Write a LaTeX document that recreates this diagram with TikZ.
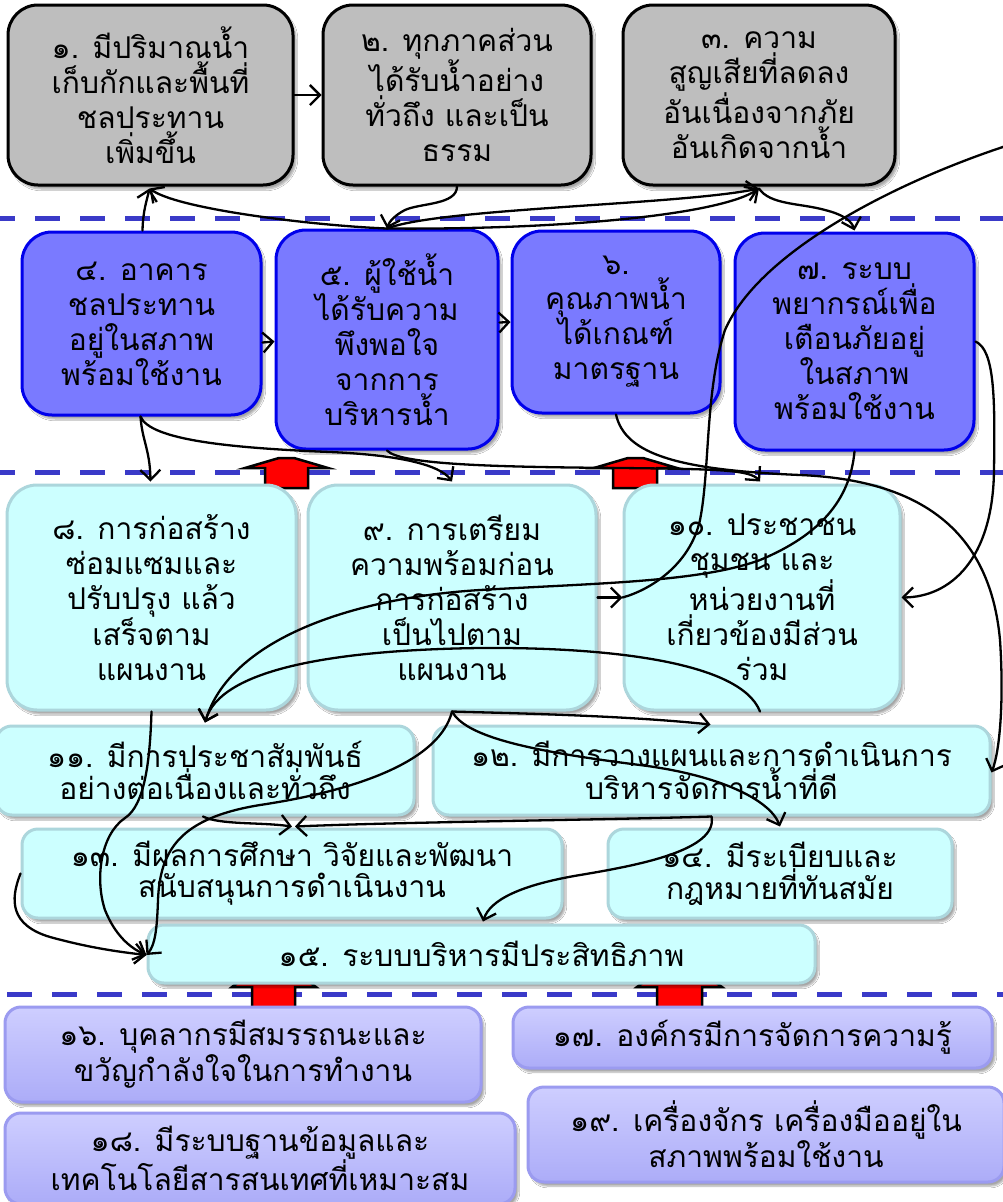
\documentclass[tikz,border=0pt]{standalone}
\usepackage{fontspec}
\newfontfamily\thaifont[Script=Thai]{Loma}
\usetikzlibrary{arrows.meta,shadows.blur,calc}
\definecolor{gfill}{RGB}{190,190,190}
\definecolor{bfill}{RGB}{122,122,255}
\definecolor{bdraw}{RGB}{0,0,235}
\definecolor{cfill}{RGB}{204,255,255}
\definecolor{cdraw}{RGB}{172,214,220}
\definecolor{ltop}{RGB}{206,206,255}
\definecolor{lbot}{RGB}{172,172,248}
\definecolor{ldraw}{RGB}{155,155,240}
\definecolor{dashblue}{RGB}{58,58,200}
\tikzset{
  shd/.style={blur shadow={shadow xshift=3pt, shadow yshift=-4pt, shadow blur steps=6, shadow opacity=35}},
  bigtxt/.style={font=\thaifont\fontsize{30}{35}\selectfont},
  smtxt/.style={font=\thaifont\fontsize{30}{31}\selectfont},
  gbox/.style={shd, rounded corners=30pt, align=center, inner sep=0pt, fill=gfill, draw=black, line width=3pt, bigtxt},
  bbox/.style={shd, rounded corners=30pt, align=center, inner sep=0pt, fill=bfill, draw=bdraw, line width=3pt, bigtxt},
  cbox/.style={shd, rounded corners=30pt, align=center, inner sep=0pt, fill=cfill, draw=cdraw, line width=3pt, bigtxt},
  csbox/.style={shd, rounded corners=16pt, align=center, inner sep=0pt, fill=cfill, draw=cdraw, line width=3pt, smtxt},
  lbox/.style={shd, rounded corners=16pt, align=center, inner sep=0pt, top color=ltop, bottom color=lbot, draw=ldraw, line width=3pt, smtxt},
  dline/.style={draw=dashblue, line width=5pt, dash pattern=on 25pt off 20pt},
  redarr/.style={fill=red, draw=black, line width=2.5pt, line join=miter},
  conn/.style={draw=black, line width=2.3pt, line cap=round, line join=round},
  arr/.style={conn, -{Straight Barb[length=10pt,width=20pt,line width=2.3pt]}}
}
\newcommand{\bx}[7]{\node[#1, minimum width={(#5-(#3))*1pt}, minimum height={(#6-(#4))*1pt}] (#2) at ({(#3+#5)/2},{(#4+#6)/2}) {#7};}
\begin{document}
\begin{tikzpicture}[x=1pt,y=-1pt]
\useasboundingbox[fill=white] (0,0) rectangle (1003,1202);
% dashed separators
\draw[dline] (-10,218) -- (1010,218);
\draw[dline] (-10,472) -- (1010,472);
\draw[dline] (7,994) -- (1010,994);
% red block arrows
\draw[redarr] (265,488) -- (265,468) -- (245,468) -- (279,458) -- (294,458) -- (328,468) -- (308,468) -- (308,488) -- cycle;
\draw[redarr] (613,488) -- (613,468) -- (594,468) -- (628,458) -- (643,458) -- (677,468) -- (657,468) -- (657,488) -- cycle;
\draw[redarr] (252,1008) -- (252,987) -- (232,987) -- (273.5,955) -- (316,987) -- (295,987) -- (295,1008) -- cycle;
\draw[redarr] (657,1008) -- (657,987) -- (637,987) -- (679.5,955) -- (722,987) -- (702,987) -- (702,1008) -- cycle;
% row 1
\bx{gbox}{b1}{8}{5}{293}{185}{๑. มีปริมาณน้ำ\\เก็บกักและพื้นที่\\ชลประทาน\\เพิ่มขึ้น}
\bx{gbox}{b2}{323}{5}{591}{185}{๒. ทุกภาคส่วน\\ได้รับน้ำอย่าง\\ทั่วถึง และเป็น\\ธรรม}
\bx{gbox}{b3}{623}{5}{895}{185}{๓. ความ\\สูญเสียที่ลดลง\\อันเนื่องจากภัย\\อันเกิดจากน้ำ}
% row 2
\bx{bbox}{b4}{22}{232}{261}{415}{๔. อาคาร\\ชลประทาน\\อยู่ในสภาพ\\พร้อมใช้งาน}
\bx{bbox}{b5}{276}{230}{498}{449}{๕. ผู้ใช้น้ำ\\ได้รับความ\\พึงพอใจ\\จากการ\\บริหารน้ำ}
\bx{bbox}{b6}{512}{231}{720}{413}{๖.\\คุณภาพน้ำ\\ได้เกณฑ์\\มาตรฐาน}
\bx{bbox}{b7}{735}{233}{974}{450}{๗. ระบบ\\พยากรณ์เพื่อ\\เตือนภัยอยู่\\ในสภาพ\\พร้อมใช้งาน}
% row 3
\bx{cbox}{b8}{7}{485}{296}{710}{๘. การก่อสร้าง\\ซ่อมแซมและ\\ปรับปรุง แล้ว\\เสร็จตาม\\แผนงาน}
\bx{cbox}{b9}{308}{485}{596}{710}{๙. การเตรียม\\ความพร้อมก่อน\\การก่อสร้าง\\เป็นไปตาม\\แผนงาน}
\bx{cbox}{b10}{624}{485}{900}{710}{๑๐. ประชาชน\\ชุมชน และ\\หน่วยงานที่\\เกี่ยวข้องมีส่วน\\ร่วม}
% rows 4-6
\bx{csbox}{b11}{-4}{726}{414}{815}{๑๑. มีการประชาสัมพันธ์\\อย่างต่อเนื่องและทั่วถึง}
\bx{csbox}{b12}{433}{726}{990}{815}{๑๒. มีการวางแผนและการดำเนินการ\\บริหารจัดการน้ำที่ดี}
\bx{csbox}{b13}{22}{829}{562}{918}{๑๓. มีผลการศึกษา วิจัยและพัฒนา\\สนับสนุนการดำเนินงาน}
\bx{csbox}{b14}{608}{829}{952}{918}{๑๔. มีระเบียบและ\\กฎหมายที่ทันสมัย}
\bx{csbox}{b15}{148}{925}{815}{983}{๑๕. ระบบบริหารมีประสิทธิภาพ}
% row 7
\bx{lbox}{b16}{5}{1007}{481}{1102}{๑๖. บุคลากรมีสมรรถนะและ\\ขวัญกำลังใจในการทำงาน}
\bx{lbox}{b17}{513}{1007}{992}{1068}{๑๗. องค์กรมีการจัดการความรู้}
\bx{lbox}{b18}{5}{1113}{515}{1204}{๑๘. มีระบบฐานข้อมูลและ\\เทคโนโลยีสารสนเทศที่เหมาะสม}
\bx{lbox}{b19}{528}{1087}{1004}{1182}{๑๙. เครื่องจักร เครื่องมืออยู่ใน\\สภาพพร้อมใช้งาน}
\coordinate (e8) at (1012,144);
% connectors top
\draw[arr] (b1.east) -- (b2.west);
\draw[arr] ([xshift=1pt]b4.north) .. controls (143,210) and (147,200) .. ([xshift=-1pt,yshift=-2pt]b1.south);
\draw[arr] (b5.north) .. controls (320,226) and (180,210) .. ([xshift=-1pt,yshift=-2pt]b1.south);
\draw[arr] (b2.south) .. controls (457,205) and (420,203) .. (405,210) .. controls (395,215) and (389,222) .. (b5.north);
\draw[arr] (b5.north) .. controls (560,230) and (720,215) .. ([yshift=-2pt]b3.south);
\draw[arr] (b5.north) .. controls (440,208) and (680,205) .. ([yshift=-2pt]b3.south);
\draw[arr] ([yshift=-2pt]b3.south) .. controls (770,205) and (800,203) .. (825,210) .. controls (845,215) and (852,222) .. ([yshift=1pt]b7.north);
\draw[arr] ([yshift=-19pt]b4.east) -- ([yshift=-2pt]b5.west);
\draw[arr] ([yshift=17pt]b5.east) -- (b6.west);
% connectors middle
\draw[arr] ([xshift=-1pt]b4.south) .. controls (142,440) and (150,450) .. ([xshift=-1pt,yshift=2pt]b8.north);
\draw[arr] ([xshift=-1pt]b4.south) .. controls (150,440) and (230,448) .. (330,452) .. controls (400,455) and (440,465) .. ([yshift=2pt]b9.north);
\draw[arr] (b5.south) .. controls (400,465) and (500,467) .. (620,468) .. controls (720,469) and (750,470) .. ([xshift=-2pt,yshift=2pt]b10.north);
\draw[conn] (b10.west) .. controls (650,590) and (690,565) .. (700,520) .. controls (710,470) and (705,390) .. (725,330) .. controls (760,250) and (900,180) .. (e8);
\draw[arr] (b9.east) -- (b10.west);
\draw[arr] (b6.south) .. controls (625,455) and (680,470) .. (800,475) .. controls (920,480) and (990,530) .. (1000,640) .. controls (1004,700) and (1000,750) .. ([yshift=-2pt]b12.east);
\draw[arr] (b7.east) .. controls (995,350) and (995,400) .. (994,470) .. controls (993,560) and (950,597) .. (b10.east);
\draw[arr] (b7.south) .. controls (850,500) and (820,535) .. (760,560) .. controls (700,582) and (600,583) .. (480,590) .. controls (350,598) and (230,640) .. ([yshift=2pt]b11.north);
\draw[arr] ([xshift=-2pt]b10.south) .. controls (740,660) and (600,647) .. (480,648) .. controls (330,650) and (220,670) .. ([yshift=2pt]b11.north);
% connectors lower
\draw[arr] (b9.south) .. controls (440,760) and (360,790) .. (260,805) .. controls (180,818) and (160,850) .. (158,900) .. controls (157,930) and (155,945) .. ([yshift=-1pt]b15.west);
\draw[arr] (b8.south) .. controls (150,760) and (145,805) .. (125,818) .. controls (100,835) and (95,880) .. (105,910) .. controls (115,935) and (130,948) .. ([yshift=-1pt]b15.west);
\draw[arr] (b13.west) .. controls (10,900) and (10,925) .. (50,937) .. controls (90,948) and (120,952) .. ([yshift=-1pt]b15.west);
\draw[arr] (b9.south) .. controls (500,713) and (620,715) .. ([xshift=-1pt]b12.north);
\draw[arr] (b9.south) .. controls (465,735) and (520,750) .. (640,765) .. controls (720,775) and (770,800) .. ([yshift=1pt]b14.north);
\draw[arr] ([xshift=-2pt]b11.south) .. controls (220,825) and (260,822) .. ([yshift=1pt]b13.north);
\draw[arr] (b12.south) .. controls (600,820) and (400,822) .. ([xshift=3pt,yshift=1pt]b13.north);
\draw[arr] (b12.south) .. controls (718,850) and (640,865) .. (580,875) .. controls (520,885) and (490,900) .. ([xshift=1.5pt,yshift=2pt]b15.north);
\end{tikzpicture}
\end{document}
